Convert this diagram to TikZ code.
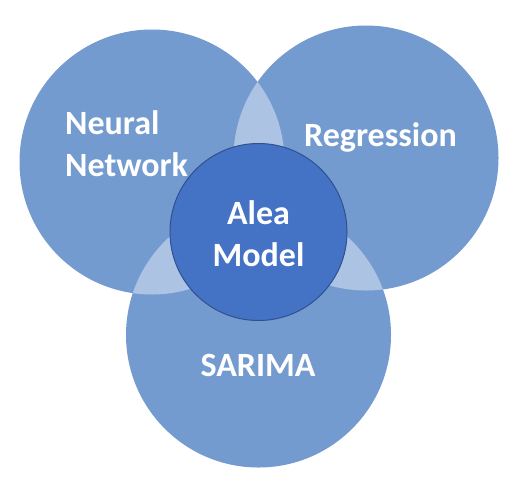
\documentclass[tikz,border=0pt]{standalone}
\usepackage{fontspec}
\setmainfont{Carlito}
\definecolor{bigc}{RGB}{116,155,207}
\definecolor{lens}{RGB}{172,195,228}
\definecolor{core}{RGB}{68,114,196}
\definecolor{coreline}{RGB}{47,82,143}
\tikzset{
  bigcircle/.style={circle, fill=bigc, minimum size=265pt, inner sep=0pt, outer sep=0pt},
  lbl/.style={text=white, font=\fontsize{34}{42}\selectfont\bfseries, inner sep=0pt}
}
\begin{document}
\begin{tikzpicture}[x=1pt,y=-1pt]
\useasboundingbox (0,0) rectangle (518,488);
\node[bigcircle] (nn) at (152,162) {};
\node[bigcircle] (rg) at (366,158) {};
\node[bigcircle] (sa) at (258.5,335) {};
% lighter overlaps
\begin{scope}
  \clip (152,162) circle (132.5pt);
  \fill[lens] (366,158) circle (132.5pt);
  \fill[lens] (258.5,335) circle (132.5pt);
\end{scope}
\begin{scope}
  \clip (366,158) circle (132.5pt);
  \fill[lens] (258.5,335) circle (132.5pt);
\end{scope}
\node[circle, fill=core, draw=coreline, line width=1pt, minimum size=177pt, inner sep=0pt] (am) at (258.5,232) {};
\node[lbl, align=left, anchor=west] (tnn) at (65,144) {Neural\\Network};
\node[lbl, anchor=base] (trg) at (380.5,146) {Regression};
\node[lbl, align=center] (tam) at (258.5,234) {Alea\\Model};
\node[lbl, anchor=base] (tsa) at (258,376) {SARIMA};
\end{tikzpicture}
\end{document}
